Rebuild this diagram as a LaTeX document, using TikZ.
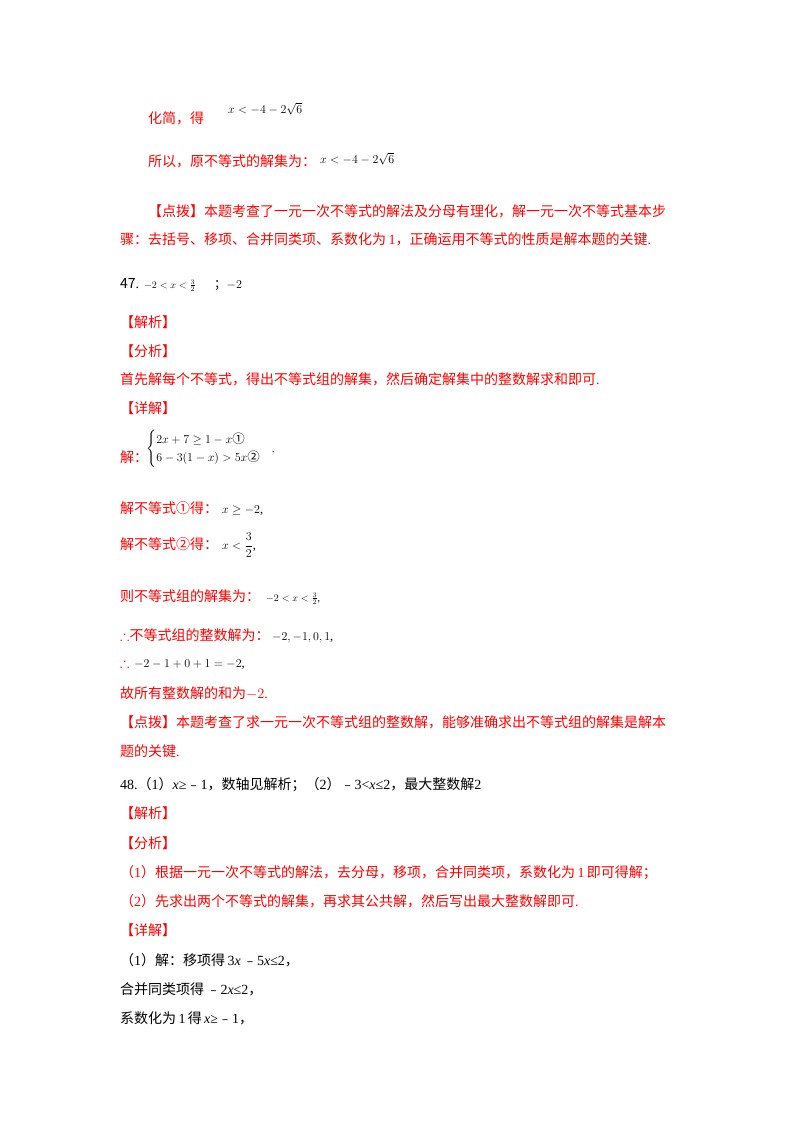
\documentclass[tikz,border=0pt]{standalone}
\usepackage{fontspec}
\usepackage{amsmath,amssymb}
\setmainfont{Liberation Serif}
\newfontfamily\cjk{Noto Sans CJK SC}
\newcommand{\mn}{{\cjk ﹣}}
\definecolor{rd}{RGB}{255,0,0}
\begin{document}
\begin{tikzpicture}[x=1pt,y=-1pt,
  t/.style={anchor=base west,inner sep=0pt,font=\fontsize{14}{17}\selectfont\cjk},
  r/.style={t,text=rd},
  m/.style={anchor=base west,inner sep=0pt,font=\fontsize{12.5}{15}\selectfont},
  ms/.style={anchor=base west,inner sep=0pt,font=\fontsize{10}{12}\selectfont}]
\useasboundingbox (0,0) rectangle (800,1132);
\node[r] (a1) at (148,123) {化简，得};
\node[m] (a2) at (228,113) {$x<-4-2\sqrt{6}$};
\node[r] (b1) at (148,166) {所以，原不等式的解集为：};
\node[m] (b2) at (320,163) {$x<-4-2\sqrt{6}$};
\node[r] (c1) at (148,216) {【点拨】本题考查了一元一次不等式的解法及分母有理化，解一元一次不等式基本步};
\node[r] (c2) at (120,244) {骤：去括号、移项、合并同类项、系数化为\,{\rmfamily 1}，正确运用不等式的性质是解本题的关键{\rmfamily .}};
\node[t] (d1) at (120,288) {47{\rmfamily .}};
\node[ms] (d2) at (144,288) {$-2<x<\frac{3}{2}$};
\node[m] (d3) at (214,288) {{\cjk ；}$-2$};
\node[r] (e1) at (120,327) {【解析】};
\node[r] (e2) at (120,356) {【分析】};
\node[r] (e3) at (120,384) {首先解每个不等式，得出不等式组的解集，然后确定解集中的整数解求和即可{\rmfamily .}};
\node[r] (e4) at (120,413) {【详解】};
\node[r] (f1) at (120,462) {解：};
\node[m] (f2) at (146,452) {$\begin{cases}2x+7\ge 1-x\text{\cjk ①}\\ 6-3(1-x)>5x\text{\cjk ②}\end{cases}\hspace{-4pt},$};
\node[r] (g1) at (120,513) {解不等式①得：};
\node[m] (g2) at (222,513) {$x\ge-2$,};
\node[r] (h1) at (120,549) {解不等式②得：};
\node[m] (h2) at (222,549) {$x<\dfrac{3}{2}$,};
\node[r] (i1) at (120,601) {则不等式组的解集为：};
\node[ms] (i2) at (266,601) {$-2<x<\frac{3}{2}$,};
\node[r] (j1) at (120,640) {$\therefore$不等式组的整数解为：};
\node[m] (j2) at (272,640) {$-2,-1,0,1$,};
\node[r] (k1) at (120,667) {$\therefore$};
\node[m] (k2) at (134,667) {$-2-1+0+1=-2$,};
\node[r] (l1) at (120,698) {故所有整数解的和为$-2${\rmfamily .}};
\node[r] (m1) at (120,727) {【点拨】本题考查了求一元一次不等式组的整数解，能够准确求出不等式组的解集是解本};
\node[r] (m2) at (120,756) {题的关键{\rmfamily .}};
\node[t] (n1) at (120,789) {{\rmfamily 48.}（{\rmfamily 1}）{\rmfamily\itshape x}{\rmfamily ≥}\mn{\rmfamily 1}，数轴见解析；（{\rmfamily 2}）\mn{\rmfamily 3<\itshape x\upshape ≤2}，最大整数解{\rmfamily 2}};
\node[r] (o1) at (120,818) {【解析】};
\node[r] (o2) at (120,848) {【分析】};
\node[r] (o3) at (120,877) {（{\rmfamily 1}）根据一元一次不等式的解法，去分母，移项，合并同类项，系数化为\,{\rmfamily 1}\,即可得解；};
\node[r] (o4) at (120,906) {（{\rmfamily 2}）先求出两个不等式的解集，再求其公共解，然后写出最大整数解即可{\rmfamily .}};
\node[r] (o5) at (120,935) {【详解】};
\node[t] (p1) at (120,965) {（{\rmfamily 1}）解：移项得\,{\rmfamily 3\itshape x\upshape\,}\mn{\rmfamily 5\itshape x\upshape≤2}，};
\node[t] (p2) at (120,994) {合并同类项得\,\mn{\rmfamily 2\itshape x\upshape≤2}，};
\node[t] (p3) at (120,1023) {系数化为\,{\rmfamily 1}\,得\,{\rmfamily\itshape x\upshape≥}\mn{\rmfamily 1}，};
\end{tikzpicture}
\end{document}
